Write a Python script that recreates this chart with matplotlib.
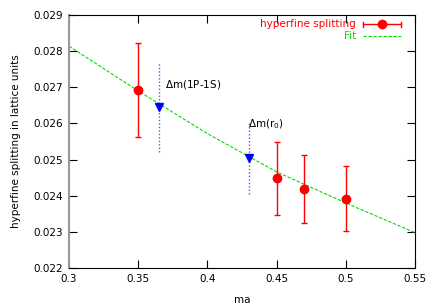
import numpy as np
import matplotlib
matplotlib.use("Agg")
import matplotlib.pyplot as plt

# lattice data: hyperfine splitting vs ma
ma = [0.35, 0.45, 0.47, 0.50]
hfs = [0.02693, 0.02448, 0.02419, 0.02392]
hfs_err = [0.0013, 0.0010, 0.00095, 0.0009]

# interpolated values at tuned masses
ma_tuned = [0.365, 0.43]
hfs_tuned = [0.02646, 0.02504]
hfs_tuned_err = [0.00125, 0.001]
tuned_labels = [r"$\Delta$m(1P-1S)", r"$\Delta$m(r$_0$)"]

# fit curve
fit_x = [0.30, 0.35, 0.40, 0.45, 0.50, 0.55]
fit_y = [0.02814, 0.02690, 0.02572, 0.02466, 0.02380, 0.02298]

fs = 7.5

fig = plt.figure(figsize=(4.36, 3.05), dpi=100)
ax = fig.add_axes([0.158, 0.121, 0.794, 0.830])

ax.plot(fit_x, fit_y, color="#00dd00", lw=0.8, dashes=(3, 1.5))
ax.errorbar(ma, hfs, yerr=hfs_err, fmt="o", color="red", ms=6,
            ecolor="red", elinewidth=1, capsize=2.5, capthick=1)
eb = ax.errorbar(ma_tuned, hfs_tuned, yerr=hfs_tuned_err, fmt="v", color="blue",
                 ms=5.5, ecolor="#5555ff", elinewidth=1, capsize=0)
eb[2][0].set_linestyle((0, (1, 1.5)))

ax.text(ma_tuned[0] + 0.0045, hfs_tuned[0] + 0.00045, tuned_labels[0], fontsize=fs,
        va="bottom", ha="left")
ax.text(ma_tuned[1] - 0.0008, hfs_tuned[1] + 0.00075, tuned_labels[1], fontsize=fs,
        va="bottom", ha="left")

# legend, gnuplot style
ax.text(0.829, 0.964, "hyperfine splitting", color="red", fontsize=fs,
        ha="right", va="center", transform=ax.transAxes)
ax.plot([0.850, 0.960], [0.964, 0.964], color="red", lw=1, transform=ax.transAxes)
ax.plot([0.850, 0.850], [0.954, 0.974], color="red", lw=1, transform=ax.transAxes)
ax.plot([0.960, 0.960], [0.954, 0.974], color="red", lw=1, transform=ax.transAxes)
ax.plot([0.905], [0.964], "o", color="red", ms=6, transform=ax.transAxes)
ax.text(0.829, 0.917, "Fit", color="#00dd00", fontsize=fs,
        ha="right", va="center", transform=ax.transAxes)
ax.plot([0.850, 0.960], [0.917, 0.917], color="#00dd00", lw=0.8, dashes=(3, 1.5),
        transform=ax.transAxes)

ax.set_xlim(0.3, 0.55)
ax.set_ylim(0.022, 0.029)
ax.set_xticks(np.arange(0.3, 0.5501, 0.05))
ax.set_xticklabels(["0.3", "0.35", "0.4", "0.45", "0.5", "0.55"])
ax.set_yticks(np.arange(0.022, 0.02901, 0.001))
ax.set_yticklabels(["%.3f" % v for v in np.arange(0.022, 0.02901, 0.001)])
ax.tick_params(direction="in", length=6, top=True, right=True, labelsize=fs,
               pad=4, width=0.8)
for s in ax.spines.values():
    s.set_linewidth(0.8)
ax.spines["left"].set_color("#999999")
ax.spines["left"].set_linewidth(1.5)

ax.set_xlabel("ma", fontsize=fs, labelpad=8)
ax.set_ylabel("hyperfine splitting in lattice units", fontsize=fs, labelpad=9)

fig.savefig("out.png", dpi=100)
